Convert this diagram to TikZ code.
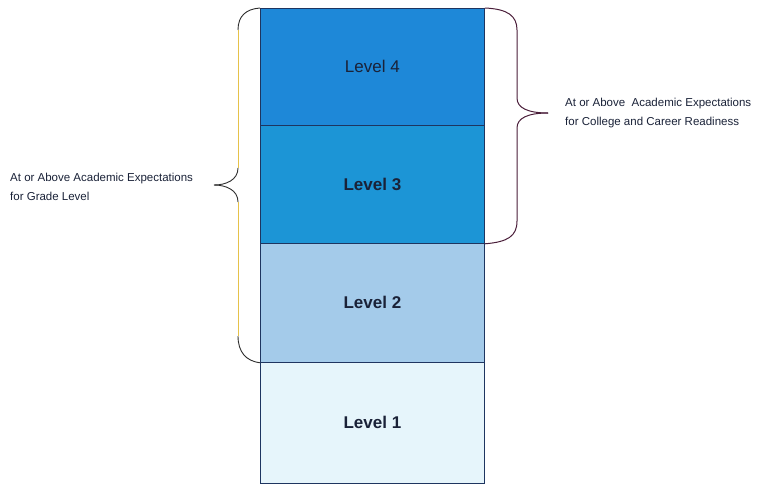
\documentclass[tikz,border=0pt]{standalone}
\usepackage{fontspec}
\setmainfont{Liberation Sans}
\definecolor{lvfour}{HTML}{1E88D8}
\definecolor{lvthree}{HTML}{1C95D6}
\definecolor{lvtwo}{HTML}{A4CBEA}
\definecolor{lvone}{HTML}{E6F5FB}
\definecolor{boxline}{HTML}{1E3560}
\definecolor{txt}{HTML}{1A2238}
\definecolor{braceleft}{HTML}{2E2E2E}
\definecolor{bracegold}{HTML}{E6C24A}
\definecolor{braceright}{HTML}{4A1E3A}
\begin{document}
\begin{tikzpicture}[x=1pt,y=-1pt,
  levelbox/.style={draw=boxline, line width=0.8pt, minimum width=224pt, inner sep=0pt,
    anchor=north west, font=\fontsize{17}{19}\selectfont, text=txt},
  sidetext/.style={align=left, anchor=west, font=\fontsize{11.5}{19}\selectfont, text=txt, inner sep=0pt},
  darkcurve/.style={draw=braceleft, line width=0.9pt},
  goldline/.style={draw=bracegold, line width=0.9pt},
  rightbrace/.style={draw=braceright, line width=1pt}]
\useasboundingbox (0,0) rectangle (759,485);
\fill[white] (0,0) rectangle (759,485);
% levels
\node[levelbox, fill=lvfour, minimum height=117pt] (l4) at (260,8) {Level 4};
\node[levelbox, fill=lvthree, minimum height=118pt] (l3) at (260,125) {\bfseries Level 3};
\node[levelbox, fill=lvtwo, minimum height=119pt] (l2) at (260,243) {\bfseries Level 2};
\node[levelbox, fill=lvone, minimum height=121pt] (l1) at (260,362) {\bfseries Level 1};
% left brace
\coordinate (la) at (238,30);
\coordinate (lb) at (238,168);
\coordinate (ltip) at (214,185);
\coordinate (lc) at (238,202);
\coordinate (ld) at (238,336);
\draw[darkcurve] (l4.north west) .. controls (246,9) and (238,16) .. (la);
\draw[goldline] (la) -- (lb);
\draw[darkcurve] (lb) .. controls (238,180) and (226,185) .. (ltip);
\draw[darkcurve] (ltip) .. controls (226,185) and (238,190) .. (lc);
\draw[goldline] (lc) -- (ld);
\draw[darkcurve] (ld) .. controls (238,352) and (246,361) .. (l2.south west);
% right brace
\coordinate (ra) at (517,30);
\coordinate (rb) at (517,98);
\coordinate (rtip) at (548,113);
\coordinate (rc) at (517,128);
\coordinate (rd) at (517,221);
\draw[rightbrace] (l4.north east) .. controls (508,9) and (517,16) .. (ra) -- (rb)
  .. controls (517,108) and (528,113) .. (rtip);
\draw[rightbrace] (rtip) .. controls (528,113) and (517,118) .. (rc) -- (rd)
  .. controls (517,236) and (508,242) .. (l3.south east);
% texts
\node[sidetext] (ltext) at (10,187) {At or Above Academic Expectations\\for Grade Level};
\node[sidetext] (rtext) at (565,113) {At or Above\ \ Academic Expectations\\for College and Career Readiness};
\end{tikzpicture}
\end{document}
